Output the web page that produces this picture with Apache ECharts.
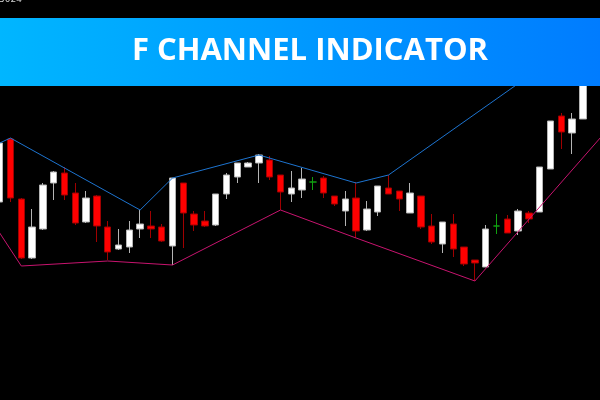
<!DOCTYPE html>
<html>
<head>
<meta charset="utf-8">
<style>
html,body{margin:0;padding:0;background:#000;width:600px;height:400px;overflow:hidden;position:relative;}
#c{position:absolute;left:-6px;top:0;width:616px;height:400px;}
</style>
<script src="https://cdn.jsdelivr.net/npm/echarts@6/dist/echarts.min.js"></script>
</head>
<body>
<div id="c"></div>
<script>
// price units (higher = up)
// each candle: [open, close, low, high]
const candles = [
  [198,257,190,257],[261,202,198,262],[201,142,141,202],[142,173,141,191],[171,215,170,217],
  [217,228,200,229],[227,205,200,233],[207,177,175,217],[178,202,177,209],[204,174,158,205],
  [173,148,140,179],[151,155,150,171],[153,170,147,179],[171,176,162,190],[174,171,162,189],
  [173,159,158,176],[154,222,135,222],[217,187,152,217],[186,175,169,189],[179,174,173,189],
  [175,206,174,206],[206,225,201,227],[223,237,217,237],[233,237,233,238],[237,245,217,246],
  [240,223,220,244],[225,208,190,225],[206,212,198,229],[210,221,202,232],[218,218,210,223],
  [222,207,202,224],[204,196,194,204],[189,201,174,209],[202,169,162,218],[170,191,169,199],
  [188,214,184,214],[212,206,206,225],[209,201,189,209],[187,207,187,217],[204,173,171,204],
  [174,158,156,186],[156,178,147,178],[176,151,143,186],[153,136,134,153],[140,137,119,140],
  [133,171,133,175],[174,174,166,186],[181,167,167,185],[169,189,165,191],[187,181,177,189],
  [188,233,188,233],[231,279,231,279],[284,268,251,287],[267,281,246,287],[281,330,281,335]
];
const upperChannel = [257,262,null,null,null,null,null,null,null,null,null,null,null,190,null,null,222,null,null,null,null,null,null,null,245,null,null,null,null,null,null,null,null,217,null,null,225,null,null,null,null,null,null,null,null,null,null,null,null,null,null,null,null,null,362,null,null];
const lowerChannel = [167,null,134,null,null,null,null,null,null,null,139,null,null,null,null,null,135,null,null,null,null,null,null,null,null,null,190,null,null,null,null,null,null,162,null,null,null,null,null,null,null,null,null,null,119,null,null,null,null,null,null,null,null,null,null,null,267];
const categories = upperChannel.map((_, i) => 'bar ' + (i + 1));
const titleText = 'F CHANNEL INDICATOR';
const priceTag = '5024';

const OFF = 6; // container is shifted 6px left of the page
const chart = echarts.init(document.getElementById('c'), null, {renderer: 'canvas'});
chart.setOption({
  backgroundColor: '#000000',
  animation: false,
  grid: {left: 0.3, top: 0, width: 615.6, height: 400},
  xAxis: {type: 'category', data: categories, boundaryGap: true, show: false},
  yAxis: {type: 'value', min: 0, max: 400, show: false},
  series: [
    {
      type: 'candlestick',
      data: candles,
      barWidth: 7,
      z: 2,
      itemStyle: {
        color: '#ffffff',
        color0: '#ff0000',
        borderColor: '#b4b4b4',
        borderColor0: '#a00000',
        borderColorDoji: '#10a010',
        borderWidth: 1
      }
    },
    {
      type: 'line', data: upperChannel, connectNulls: true, symbol: 'none', z: 3,
      lineStyle: {color: '#1d74d0', width: 1}
    },
    {
      type: 'line', data: lowerChannel, connectNulls: true, symbol: 'none', z: 3,
      lineStyle: {color: '#c8146f', width: 1}
    }
  ],
  graphic: [
    {
      type: 'rect', z: 100, left: OFF, top: 18,
      shape: {width: 600, height: 68},
      style: {fill: new echarts.graphic.LinearGradient(0, 0, 1, 0, [
        {offset: 0, color: '#00b6ff'}, {offset: 1, color: '#007cff'}
      ])}
    },
    {
      type: 'text', z: 101, x: 310 + OFF, y: 51,
      style: {text: titleText, fill: '#ffffff', font: 'bold 31px "Open Sans"', align: 'center', verticalAlign: 'middle'}
    },
    {
      type: 'text', z: 101, x: OFF - 1, y: -5,
      style: {text: priceTag, fill: '#d0d0d0', font: '9px "DejaVu Sans"', align: 'left', verticalAlign: 'top'}
    }
  ]
});
</script>
</body>
</html>
